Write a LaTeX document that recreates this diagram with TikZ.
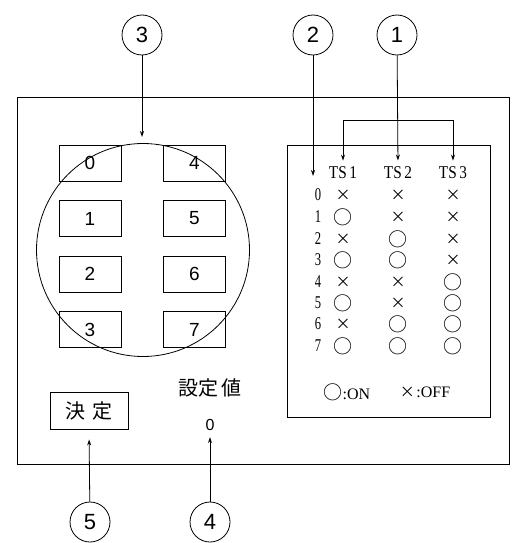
\documentclass[tikz,border=0pt]{standalone}
\usepackage{fontspec}
\newfontfamily\jp{Noto Sans CJK JP}
\newfontfamily\ser{Liberation Serif}
\newfontfamily\sa{Liberation Sans}
\usetikzlibrary{arrows.meta}
\newcommand{\xx}{{\fontsize{15}{15}\selectfont ×}}
\newcommand{\oo}{{\fontsize{19}{19}\selectfont ○}}
\begin{document}
\begin{tikzpicture}[x=1pt,y=-1pt,line width=0.8pt,
  arr/.style={-{Stealth[length=6pt,width=4pt]}},
  numc/.style={draw,circle,minimum size=40pt,inner sep=0pt,font=\sa\fontsize{22}{22}\selectfont},
  btn/.style={draw,minimum width=62pt,minimum height=36pt,inner sep=0pt,font=\sa\fontsize{19}{19}\selectfont},
  ts/.style={inner sep=1pt,xscale=0.85,font=\ser\fontsize{18}{18}\selectfont},
  rown/.style={inner sep=0pt,xscale=0.7,font=\ser\fontsize{18}{18}\selectfont},
  sym/.style={inner sep=0pt,font=\jp},
  jtxt/.style={inner sep=2pt,font=\jp\fontsize{20}{20}\selectfont}]
\useasboundingbox (0,0) rectangle (517,543);
% outer panel
\node[draw,line width=1pt,anchor=north west,minimum width=492pt,minimum height=367pt,inner sep=0pt] (panel) at (17,97) {};
% table box
\node[draw,anchor=north west,minimum width=203pt,minimum height=272pt,inner sep=0pt] (tbl) at (287,145) {};
% buttons
\foreach \n/\x/\y in {0/90/163,1/90/218.5,2/90/274,3/90/329.5,4/194.5/163,5/194.5/218.5,6/194.5/274,7/194.5/329.5}{
  \node[btn] (b\n) at (\x,\y) {\n};
}
% dial circle
\node[draw,circle,minimum size=213pt,inner sep=0pt] (dial) at (143,250) {};
% callout circles
\node[numc] (c3) at (142,35) {3};
\node[numc] (c2) at (313,35) {2};
\node[numc] (c1) at (397,35) {1};
\node[numc] (c5) at (90,522) {5};
\node[numc] (c4) at (210,522) {4};
% TS headers
\node[ts] (ts1) at (343,173) {TS\,1};
\node[ts] (ts2) at (398,173) {TS\,2};
\node[ts] (ts3) at (453,173) {TS\,3};
% row numbers and symbols
\foreach \r/\y/\a/\b/\c in {0/195/\xx/\xx/\xx,1/217/\oo/\xx/\xx,2/239/\xx/\oo/\xx,3/260/\oo/\oo/\xx,4/282/\xx/\xx/\oo,5/303/\oo/\xx/\oo,6/324/\xx/\oo/\oo,7/346/\oo/\oo/\oo}{
  \node[rown] (r\r) at (318,\y) {\r};
  \node[sym] (s1\r) at (343,\y) {\a};
  \node[sym] (s2\r) at (398,\y) {\b};
  \node[sym] (s3\r) at (453,\y) {\c};
}
% legend
\node[inner sep=0pt] (lon) at (347,392) {{\jp\oo}{\ser\fontsize{16}{16}\selectfont :ON}};
\node[inner sep=0pt] (loff) at (425,392) {{\jp\xx}\,{\ser\fontsize{16}{16}\selectfont :OFF}};
% bottom-left items
\node[draw,jtxt,minimum width=78pt,minimum height=37pt] (kettei) at (89,410.5) {決\,\,定};
\node[jtxt] (settei) at (210,388) {設定\,値};
\node[inner sep=1pt,font=\sa\fontsize{16}{16}\selectfont] (val) at (210,425) {0};
% connectors
\coordinate (t3) at (142,137);
\draw[arr] (c3) -- (t3);
\coordinate (t2) at (313,176);
\draw[arr] (c2) -- (t2);
\draw[arr,shorten >=5pt] (c1) -- (ts2.north);
\coordinate (bl) at (343,120);
\coordinate (br) at (453,120);
\draw (bl) -- (br);
\draw[arr,shorten >=5pt] (bl) -- (ts1.north);
\draw[arr,shorten >=5pt] (br) -- (ts3.north);
\draw[arr,shorten >=10pt] (c5) -- (kettei.south);
\draw[arr,shorten >=5pt] (c4) -- (val.south);
\end{tikzpicture}
\end{document}
